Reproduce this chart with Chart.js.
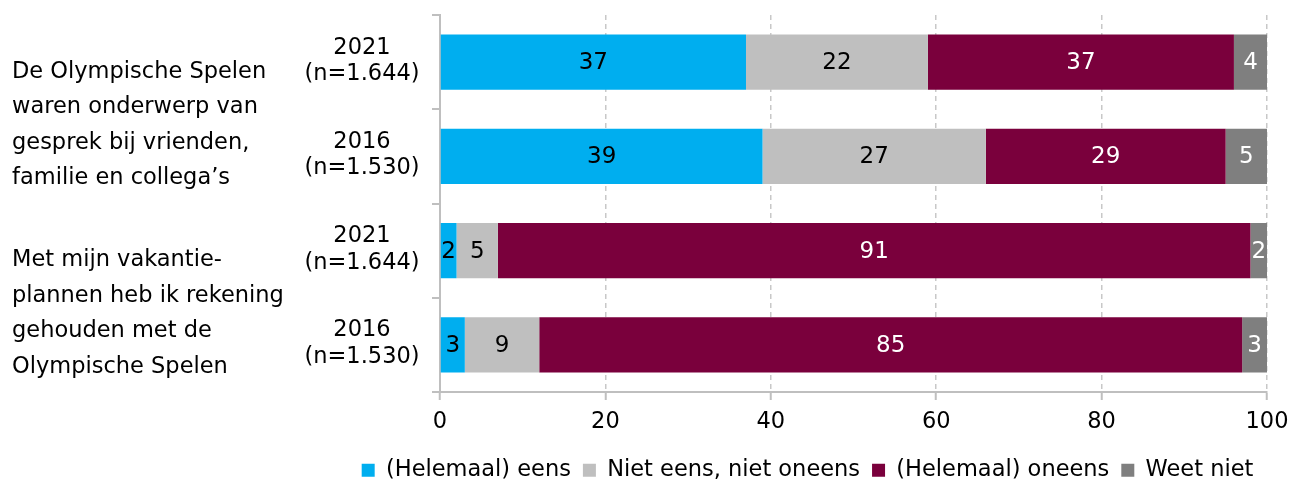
<!DOCTYPE html>
<html lang="nl">
<head>
    <meta charset="UTF-8">
    <title>Olympische Spelen</title>
    <script src="https://cdn.jsdelivr.net/npm/chart.js"></script>
    <style>
        html, body {
            margin: 0;
            background: #fff;
        }
        .wrap {
            position: relative;
            width: 1303px;
            height: 486px;
        }
    </style>
</head>
<body>
    <div class="wrap"><canvas id="chart"></canvas></div>

    <script>
        // rows: year + sample size
        const rowLabels = [
            ['2021', '(n=1.644)'],
            ['2016', '(n=1.530)'],
            ['2021', '(n=1.644)'],
            ['2016', '(n=1.530)']
        ];
        // statements, each covering two rows
        const groupLabels = [
            ['De Olympische Spelen', 'waren onderwerp van', 'gesprek bij vrienden,', 'familie en collega’s'],
            ['Met mijn vakantie-', 'plannen heb ik rekening', 'gehouden met de', 'Olympische Spelen']
        ];
        const groupRows = [[0, 1], [2, 3]];

        const seriesNames = ['(Helemaal) eens', 'Niet eens, niet oneens', '(Helemaal) oneens', 'Weet niet'];
        const eens = [37, 39, 2, 3];
        const neutraal = [22, 27, 5, 9];
        const oneens = [37, 29, 91, 85];
        const weetNiet = [4, 5, 2, 3];

        const colors = ['#00AEEF', '#BFBFBF', '#7A003C', '#7F7F7F'];
        const labelColors = ['#000', '#000', '#fff', '#fff'];
        const FONT = 'DejaVu Sans';
        const SIZE = 22.5;

        Chart.defaults.font.family = FONT;
        Chart.defaults.font.size = SIZE;
        Chart.defaults.color = '#000';

        // values in the middle of each segment
        const valueLabels = {
            id: 'valueLabels',
            afterDatasetsDraw(chart) {
                const ctx = chart.ctx;
                ctx.save();
                ctx.font = '23px ' + FONT;
                ctx.textAlign = 'center';
                ctx.textBaseline = 'middle';
                chart.data.datasets.forEach((ds, i) => {
                    const meta = chart.getDatasetMeta(i);
                    meta.data.forEach((bar, j) => {
                        ctx.fillStyle = labelColors[i];
                        ctx.fillText(String(ds.data[j]), (bar.x + bar.base) / 2, bar.y + 1);
                    });
                });
                ctx.restore();
            }
        };

        // row labels (year, n) and statement text on the left
        const sideText = {
            id: 'sideText',
            afterDraw(chart) {
                const ctx = chart.ctx;
                const y = chart.scales.y;
                ctx.save();
                ctx.font = SIZE + 'px ' + FONT;
                ctx.fillStyle = '#000';
                ctx.textBaseline = 'middle';

                ctx.textAlign = 'center';
                const rl = 26.5;
                chart.data.labels.forEach((lines, i) => {
                    const c = y.getPixelForValue(i) - 1;
                    const top = c - (lines.length - 1) * rl / 2;
                    lines.forEach((t, k) => ctx.fillText(t, 362, top + k * rl));
                });

                ctx.textAlign = 'left';
                const lh = 35.5;
                groupLabels.forEach((lines, g) => {
                    const rows = groupRows[g];
                    const mid = (y.getPixelForValue(rows[0]) + y.getPixelForValue(rows[1])) / 2 + 16;
                    const top = mid - (lines.length - 1) * lh / 2;
                    lines.forEach((t, k) => ctx.fillText(t, 12, top + k * lh));
                });
                ctx.restore();
            }
        };

        // legend sits lower than its padding would give; trim its height
        const legendHeight = {
            id: 'legendHeight',
            afterInit(chart) {
                const lg = chart.legend;
                if (!lg) return;
                const fit = lg.fit;
                lg.fit = function () {
                    fit.call(this);
                    this.height = 39;
                };
            }
        };

        new Chart(document.getElementById('chart'), {
            type: 'bar',
            data: {
                labels: rowLabels,
                datasets: [
                    { label: seriesNames[0], data: eens, backgroundColor: colors[0] },
                    { label: seriesNames[1], data: neutraal, backgroundColor: colors[1] },
                    { label: seriesNames[2], data: oneens, backgroundColor: colors[2] },
                    { label: seriesNames[3], data: weetNiet, backgroundColor: colors[3] }
                ]
            },
            options: {
                indexAxis: 'y',
                responsive: true,
                maintainAspectRatio: false,
                animation: false,
                datasets: {
                    bar: { categoryPercentage: 1, barPercentage: 0.585 }
                },
                layout: {
                    padding: { left: 348, right: 36, top: 15, bottom: 0 }
                },
                scales: {
                    x: {
                        stacked: true,
                        min: 0,
                        max: 100,
                        ticks: { stepSize: 20, padding: 9 },
                        grid: {
                            color: '#C8C8C8',
                            lineWidth: 1.5,
                            tickLength: 8,
                            tickColor: '#BFBFBF',
                            tickWidth: 2
                        },
                        border: { color: '#BFBFBF', width: 2, dash: [5, 4] },
                        afterFit(scale) { scale.height = 55; }
                    },
                    y: {
                        stacked: true,
                        ticks: { display: false },
                        grid: {
                            drawOnChartArea: false,
                            offset: true,
                            tickLength: 8,
                            color: '#BFBFBF',
                            lineWidth: 2
                        },
                        border: { color: '#BFBFBF', width: 2 },
                        afterFit(scale) { scale.width = 92; }
                    }
                },
                plugins: {
                    legend: {
                        position: 'bottom',
                        labels: {
                            boxWidth: 13,
                            boxHeight: 13,
                            padding: 12
                        }
                    },
                    tooltip: { enabled: false }
                }
            },
            plugins: [valueLabels, sideText, legendHeight]
        });
    </script>
</body>
</html>
